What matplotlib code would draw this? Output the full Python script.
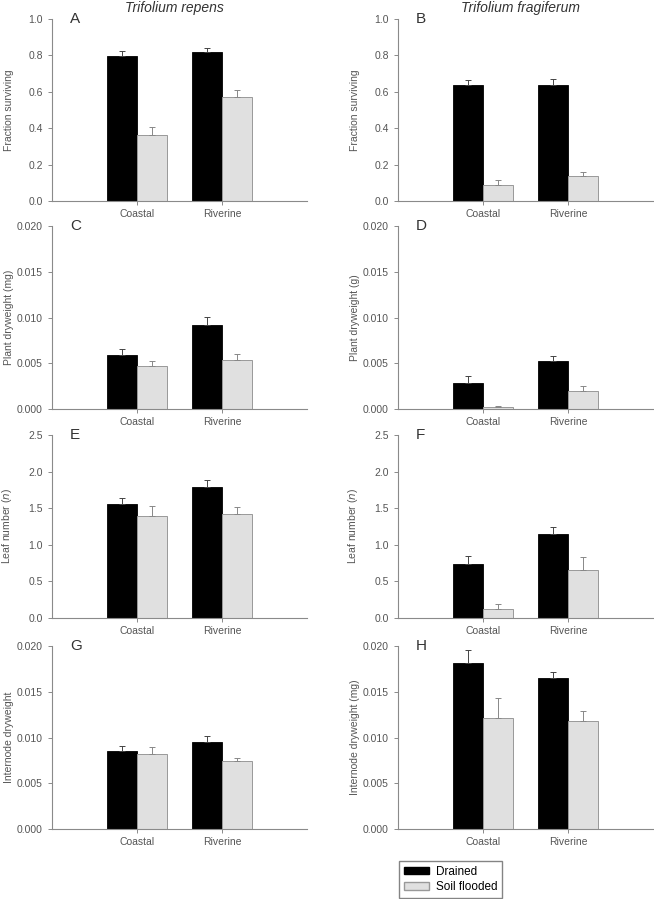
import numpy as np
import matplotlib
matplotlib.use('Agg')
from matplotlib import pyplot as plt
from matplotlib.patches import Patch

plt.rcParams['font.family'] = ['Liberation Sans', 'DejaVu Sans']

sites = ['Coastal', 'Riverine']

# panel data: mean (Coastal, Riverine) and upper error bar length
A_drained = [0.799, 0.819]
A_drained_err = [0.025, 0.023]
A_flooded = [0.361, 0.573]
A_flooded_err = [0.046, 0.039]

B_drained = [0.636, 0.639]
B_drained_err = [0.031, 0.029]
B_flooded = [0.090, 0.137]
B_flooded_err = [0.025, 0.022]

C_drained = [0.00589, 0.00913]
C_drained_err = [0.00062, 0.00094]
C_flooded = [0.00465, 0.00538]
C_flooded_err = [0.00062, 0.00066]

D_drained = [0.00284, 0.00524]
D_drained_err = [0.00080, 0.00058]
D_flooded = [0.00022, 0.00200]
D_flooded_err = [0.00011, 0.00055]

E_drained = [1.558, 1.786]
E_drained_err = [0.082, 0.105]
E_flooded = [1.394, 1.417]
E_flooded_err = [0.137, 0.105]

F_drained = [0.733, 1.148]
F_drained_err = [0.114, 0.095]
F_flooded = [0.123, 0.656]
F_flooded_err = [0.068, 0.182]

G_drained = [0.00851, 0.00956]
G_drained_err = [0.00054, 0.00059]
G_flooded = [0.00818, 0.00742]
G_flooded_err = [0.00073, 0.00033]

H_drained = [0.0181, 0.01646]
H_drained_err = [0.0015, 0.00073]
H_flooded = [0.01213, 0.0118]
H_flooded_err = [0.00218, 0.00109]

panels = [
    ('A', A_drained, A_drained_err, A_flooded, A_flooded_err, 'Fraction surviving', 1.0, 0.2, '%.1f'),
    ('B', B_drained, B_drained_err, B_flooded, B_flooded_err, 'Fraction surviving', 1.0, 0.2, '%.1f'),
    ('C', C_drained, C_drained_err, C_flooded, C_flooded_err, 'Plant dryweight (mg)', 0.02, 0.005, '%.3f'),
    ('D', D_drained, D_drained_err, D_flooded, D_flooded_err, 'Plant dryweight (g)', 0.02, 0.005, '%.3f'),
    ('E', E_drained, E_drained_err, E_flooded, E_flooded_err, 'Leaf number ($\\it{n}$)', 2.5, 0.5, '%.1f'),
    ('F', F_drained, F_drained_err, F_flooded, F_flooded_err, 'Leaf number ($\\it{n}$)', 2.5, 0.5, '%.1f'),
    ('G', G_drained, G_drained_err, G_flooded, G_flooded_err, 'Internode dryweight', 0.02, 0.005, '%.3f'),
    ('H', H_drained, H_drained_err, H_flooded, H_flooded_err, 'Internode dryweight (mg)', 0.02, 0.005, '%.3f'),
]

W, H = 654, 899
fig = plt.figure(figsize=(W / 100, H / 100), dpi=100)

col_x = [52, 398]
row_y = [(19, 201), (226, 409), (435, 618), (646, 829)]
axw = 255

axis_grey = '#8a8a8a'
text_grey = '#555555'
light = '#e0e0e0'
bw = 0.35

for i, (letter, dr, dre, fl, fle, ylab, ymax, step, fmt) in enumerate(panels):
    r, c = divmod(i, 2)
    top, bot = row_y[r]
    ax = fig.add_axes([col_x[c] / W, 1 - bot / H, axw / W, (bot - top) / H])
    x = np.arange(1, len(sites) + 1)
    ax.bar(x - bw / 2, dr, bw, color='black', edgecolor='black', linewidth=0.6,
           yerr=[np.zeros(2), dre], error_kw=dict(ecolor='#444444', elinewidth=0.7, capsize=2.5, capthick=0.7))
    ax.bar(x + bw / 2, fl, bw, color=light, edgecolor='#999999', linewidth=0.7,
           yerr=[np.zeros(2), fle], error_kw=dict(ecolor='#888888', elinewidth=0.7, capsize=2.5, capthick=0.7))
    ax.set_xlim(0, 3)
    ax.set_ylim(0, ymax)
    ax.set_yticks(np.arange(0, ymax + step / 2, step))
    ax.yaxis.set_major_formatter(matplotlib.ticker.FormatStrFormatter(fmt))
    ax.set_xticks(x)
    ax.set_xticklabels(sites)
    for s in ['top', 'right']:
        ax.spines[s].set_visible(False)
    for s in ['left', 'bottom']:
        ax.spines[s].set_color(axis_grey)
        ax.spines[s].set_linewidth(0.8)
    ax.tick_params(colors=axis_grey, labelcolor=text_grey, labelsize=7.5, length=3, width=0.7)
    ax.tick_params(axis='x', pad=3)
    ax.set_ylabel(ylab, fontsize=7.5, color=text_grey)
    ax.yaxis.set_label_coords(-0.148, 0.5)
    ax.text(0.07, 1.0, letter, transform=ax.transAxes, fontsize=11, color='#333333', va='center', ha='left')
    if r == 0:
        ax.set_title(['Trifolium repens', 'Trifolium fragiferum'][c], fontsize=10, style='italic',
                     color='#333333', pad=5, x=0.48)

handles = [Patch(facecolor='black', edgecolor='black', label='Drained'),
           Patch(facecolor=light, edgecolor='#999999', label='Soil flooded')]
fig.legend(handles=handles, loc='upper left', bbox_to_anchor=(399 / W, 1 - 861 / H),
           frameon=True, fancybox=False, edgecolor='#666666', fontsize=8.5, handlelength=2.1,
           handleheight=0.6, borderpad=0.4, labelspacing=0.3, handletextpad=0.6, borderaxespad=0)

fig.savefig('out.png', dpi=100)
